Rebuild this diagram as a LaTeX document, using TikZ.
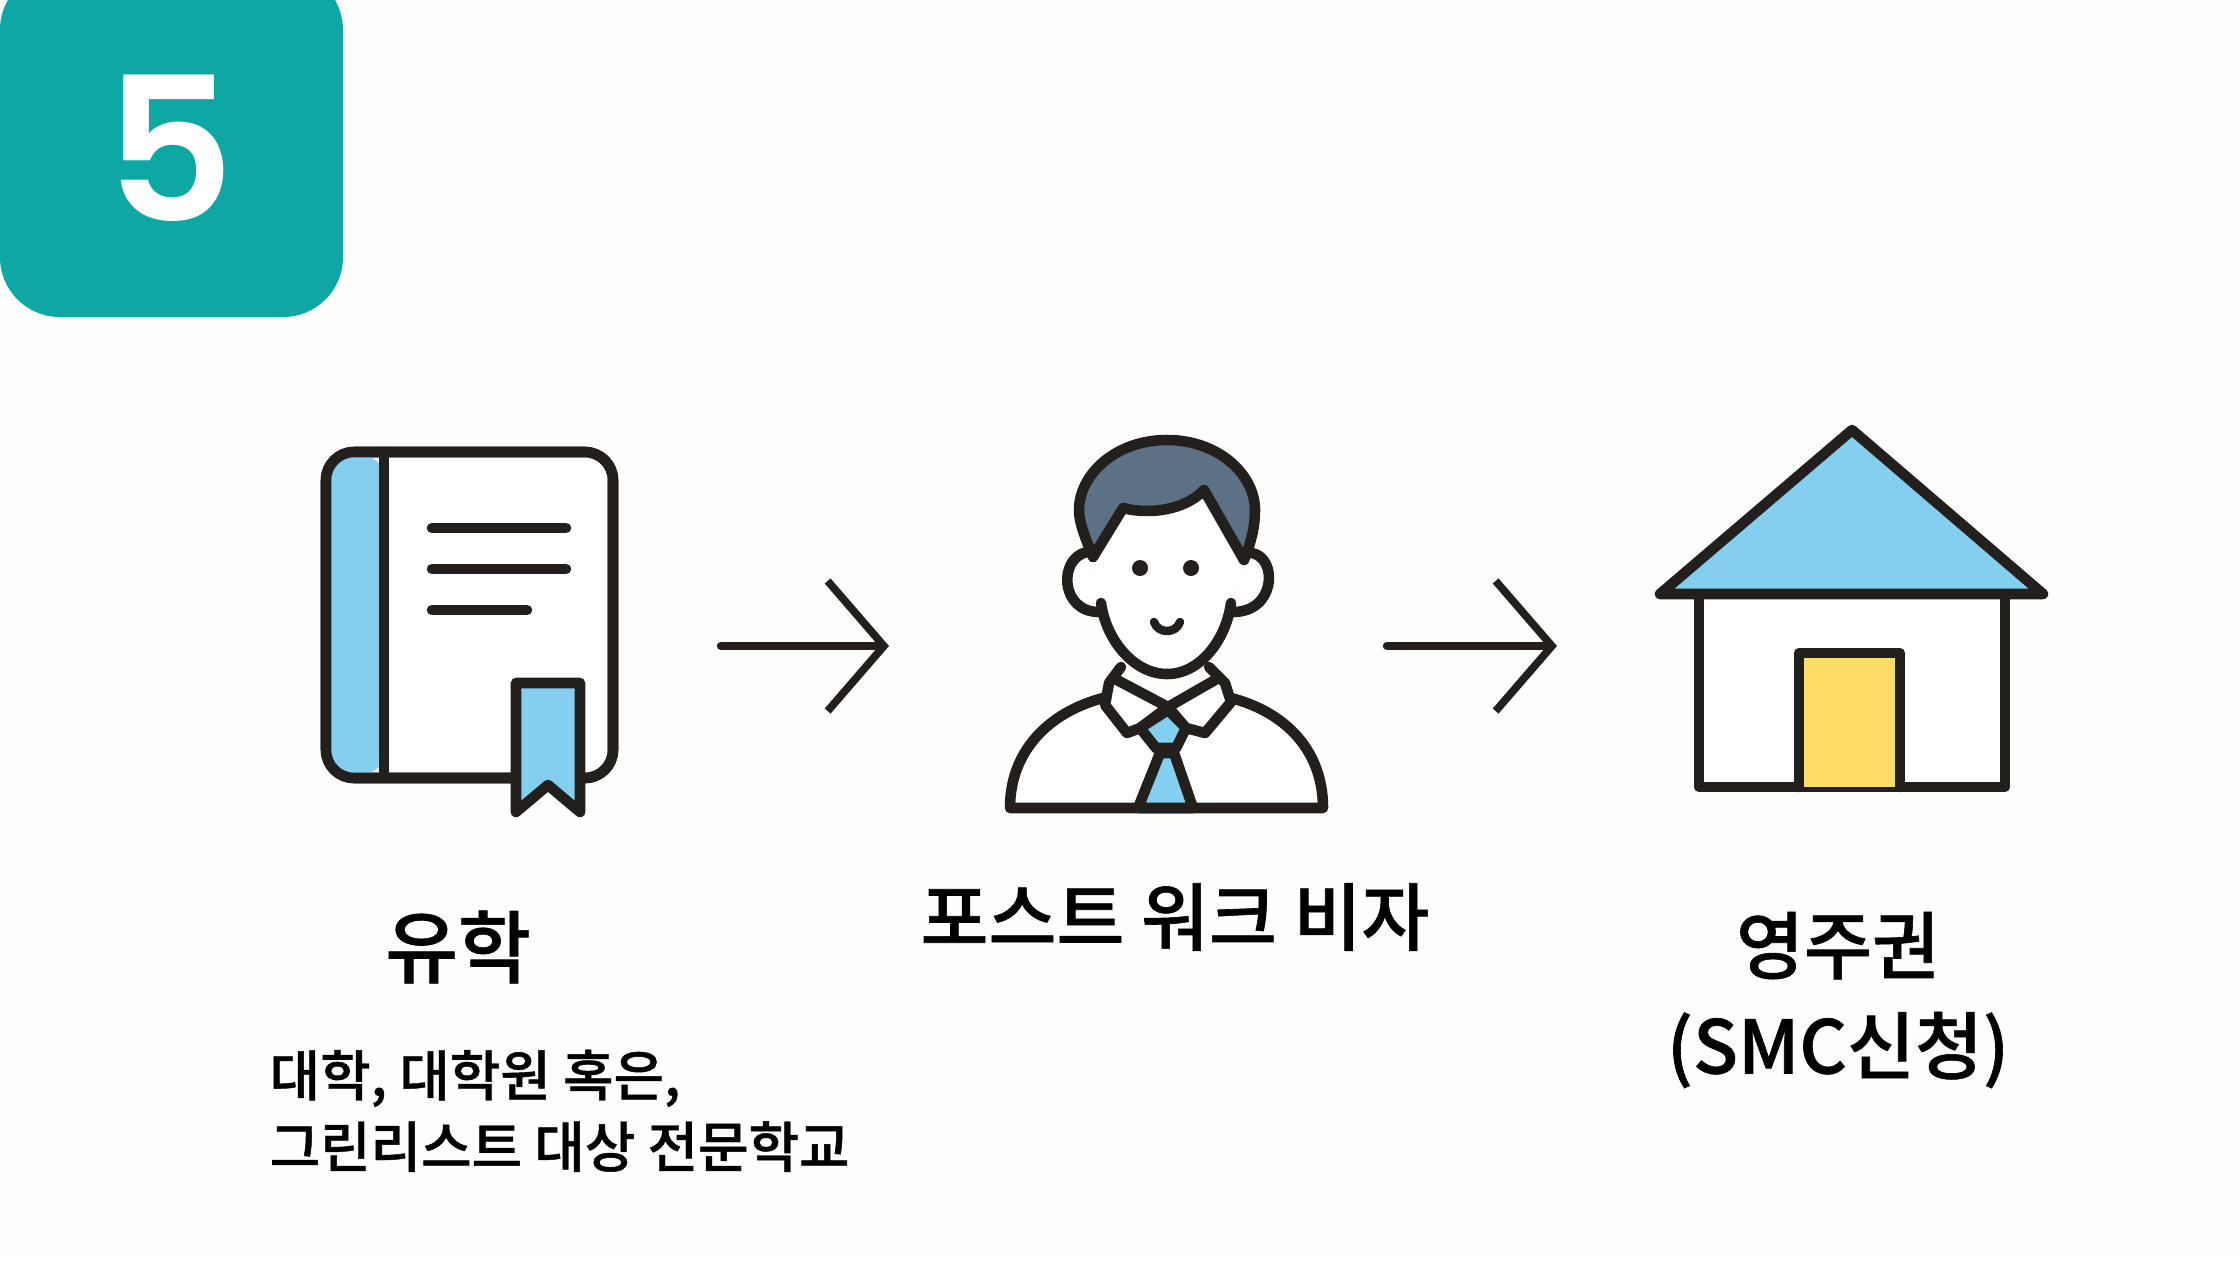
\documentclass[tikz,border=0pt]{standalone}
\usepackage{fontspec}
\setmainfont{Poppins SemiBold}
\newfontfamily\krfont[FakeBold=0.8]{Noto Sans CJK KR Medium}
\usetikzlibrary{positioning, arrows.meta}
\definecolor{bgwhite}{HTML}{FEFEFC}
\definecolor{badge}{HTML}{0EA8A4}
\definecolor{skyblue}{HTML}{84CEEF}
\definecolor{doorgold}{HTML}{FEDC68}
\definecolor{hairgrey}{HTML}{5C7086}
\definecolor{ink}{HTML}{231F1C}
\tikzset{
    icon/.style={draw=ink, line width=3pt, line join=round, line cap=round},
    pointer/.style={draw=ink, line width=2.4pt, line cap=round,
        -{Straight Barb[length=16pt, width=37pt, line width=2.2pt]}},
    title/.style={font=\krfont\fontsize{21}{28.5}\selectfont, align=center, inner sep=0pt},
    bigtitle/.style={font=\krfont\fontsize{22.5}{28.5}\selectfont, align=center, inner sep=0pt},
    small/.style={font=\krfont\fontsize{15.6}{20.3}\selectfont, align=left, inner sep=0pt}
}

\begin{document}
\begin{tikzpicture}[x=0.01cm, y=-0.01cm]
    \useasboundingbox (0,0) rectangle (2240,1260);
    \fill[bgwhite] (0,0) rectangle (2240,1260);

    % badge
    \begin{scope}
        \clip (0,0) rectangle (2240,1260);
        \fill[badge, rounded corners=17pt] (0,-30) rectangle (343,317);
    \end{scope}
    \node[text=white, font=\fontsize{57}{57}\selectfont, inner sep=0pt] (num) at (170,148) {5};

    % book
    \draw[icon, fill=white, rounded corners=8pt] (326,452) rectangle (613,778);
    \fill[skyblue, rounded corners=6pt] (330,456) -- (330,774) -- (384,774) -- (384,456) -- cycle;
    \draw[icon, rounded corners=8pt] (326,452) rectangle (613,778);
    \draw[icon] (384,452) -- (384,778);
    \draw[icon] (432,528) -- (566,528);
    \draw[icon] (432,569) -- (566,569);
    \draw[icon] (432,610) -- (527,610);
    \draw[icon, fill=skyblue] (516,683) -- (580,683) -- (580,812) -- (548,785) -- (516,812) -- cycle;

    % man
    \draw[icon, fill=white] (1103,698) .. controls (1050,712) and (1010,750) .. (1010,808) -- (1323,808) .. controls (1323,750) and (1285,712) .. (1231,698);
    \draw[icon, fill=skyblue] (1160,753) -- (1174,753) -- (1193,808) -- (1138,808) -- cycle;
    \draw[icon, fill=white] (1121,667) -- (1109,683) -- (1105,705) -- (1127,733) -- (1140,728) -- (1168,707) -- (1117,680);
    \draw[icon, fill=white] (1209,667) -- (1225,683) -- (1231,702) -- (1205,733) -- (1186,728) -- (1168,707) -- (1215,680);
    \draw[icon, fill=skyblue] (1168,710) -- (1186,728) -- (1176,748) -- (1156,748) -- (1140,728) -- cycle;
    \draw[icon, fill=white] (1087,552) .. controls (1058,558) and (1060,612) .. (1099,612);
    \draw[icon, fill=white] (1252,553) .. controls (1278,558) and (1276,612) .. (1233,612);
    \fill[white] (1093,557) -- (1123,508) .. controls (1150,515) and (1185,510) .. (1204,490) -- (1244,560)
        -- (1231,603) .. controls (1226,640) and (1200,674) .. (1167,674) .. controls (1134,674) and (1106,640) .. (1101,603) -- cycle;
    \draw[icon] (1231,603) .. controls (1226,640) and (1200,674) .. (1167,674) .. controls (1134,674) and (1106,640) .. (1101,603);
    \draw[icon, fill=hairgrey] (1093,557) .. controls (1084,535) and (1079,522) .. (1079,510) .. controls (1079,475) and (1115,440) .. (1167,440)
        .. controls (1219,440) and (1255,475) .. (1255,510) .. controls (1255,525) and (1252,540) .. (1244,560)
        -- (1204,490) .. controls (1185,510) and (1150,515) .. (1123,508) -- cycle;
    \fill[ink] (1140,568) circle (8);
    \fill[ink] (1191,568) circle (8);
    \draw[icon, line width=2.4pt] (1154,622) .. controls (1158,634) and (1176,634) .. (1180,622);

    % house
    \draw[icon, fill=white] (1699,594) -- (1699,787) -- (2005,787) -- (2005,594);
    \draw[icon, fill=doorgold] (1799,787) -- (1799,653) -- (1900,653) -- (1900,787);
    \draw[icon, fill=skyblue] (1852,430) -- (2043,594) -- (1660,594) -- cycle;

    % arrows
    \coordinate (a_0) at (721,646);
    \coordinate (a_1) at (889,646);
    \coordinate (b_0) at (1387,646);
    \coordinate (b_1) at (1557,646);
    \draw[pointer] (a_0) -- (a_1);
    \draw[pointer] (b_0) -- (b_1);

    % labels
    \node[bigtitle] (study) at (458,947) {유학};
    \node[small, anchor=north west] (where) at (269,1049) {대학, 대학원 혹은,\\그린리스트 대상 전문학교};
    \node[title] (visa) at (1175,917) {포스트 워크 비자};
    \node[title] (pr) at (1838,1000) {영주권\\(SMC신청)};
\end{tikzpicture}
\end{document}
